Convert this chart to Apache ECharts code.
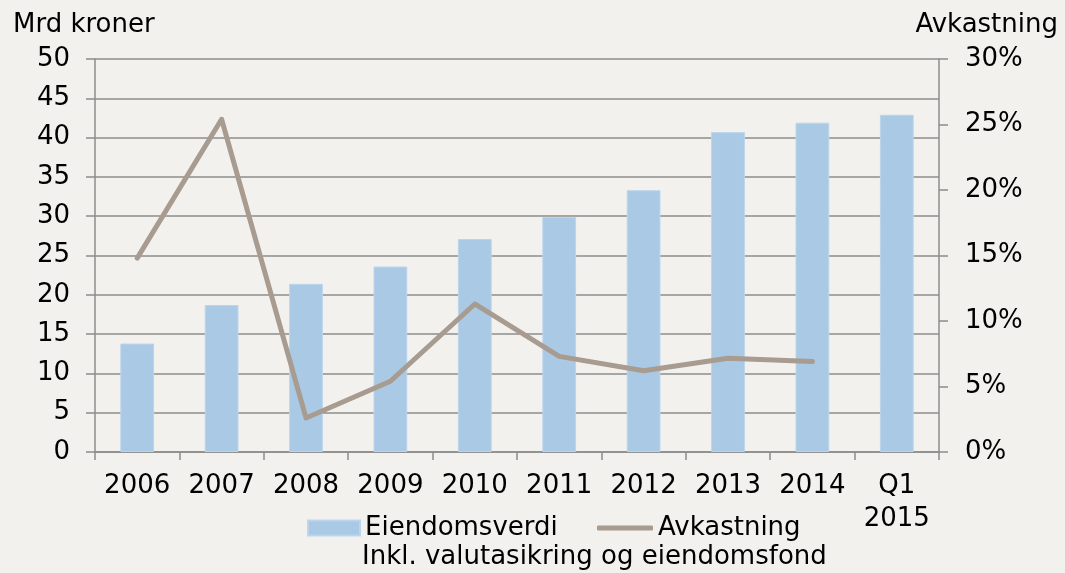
<!DOCTYPE html>
<html>
<head>
<meta charset="utf-8">
<script src="https://cdn.jsdelivr.net/npm/echarts@6/dist/echarts.min.js"></script>
<style>
  html, body { margin: 0; padding: 0; background: #f3f1ee; }
  #chart { width: 1065px; height: 573px; }
</style>
</head>
<body>
<div id="chart"></div>
<script>
// data
const years = ['2006', '2007', '2008', '2009', '2010', '2011', '2012', '2013', '2014', 'Q1\n2015']
const eiendomsverdi = [13.8, 18.7, 21.4, 23.6, 27.1, 29.9, 33.3, 40.7, 41.9, 42.9]
const avkastning = [14.8, 25.4, 2.6, 5.4, 11.3, 7.3, 6.2, 7.15, 6.9, null] // prosent

const gray = '#8c8c8c'
const font = 'DejaVu Sans'
const fs = 26

const chart = echarts.init(document.getElementById('chart'))

const legendText = { fontFamily: font, fontSize: fs, color: '#000' }

const option = {
  backgroundColor: '#f3f1ee',
  textStyle: { fontFamily: font },
  animation: false,
  grid: { left: 95, right: 126, top: 59, bottom: 121 },
  legend: [
    {
      left: 302, top: 510,
      itemWidth: 52, itemHeight: 15,
      textStyle: legendText,
      data: [{ name: 'Eiendomsverdi', icon: 'rect' }]
    },
    {
      left: 592, top: 510,
      itemWidth: 56, itemHeight: 5,
      textStyle: legendText,
      data: [{ name: 'Avkastning', icon: 'roundRect', itemStyle: { color: '#a89b8f' } }]
    }
  ],
  graphic: [
    { type: 'text', left: 13, top: 12, style: { text: 'Mrd kroner', font: fs + 'px ' + font, fill: '#000' } },
    { type: 'text', right: 7, top: 12, style: { text: 'Avkastning', font: fs + 'px ' + font, fill: '#000' } },
    { type: 'text', left: 362, top: 544, style: { text: 'Inkl. valutasikring og eiendomsfond', font: fs + 'px ' + font, fill: '#000' } }
  ],
  xAxis: {
    type: 'category',
    data: years,
    axisLine: { lineStyle: { color: gray, width: 1.5 } },
    axisTick: { show: true, length: 8, lineStyle: { color: gray, width: 1.5 } },
    axisLabel: { color: '#000', fontSize: fs, fontFamily: font, margin: 18, lineHeight: 33, interval: 0 }
  },
  yAxis: [
    {
      type: 'value', min: 0, max: 50, interval: 5,
      axisLine: { show: true, lineStyle: { color: gray, width: 1.5 } },
      axisTick: { show: true, length: 9, lineStyle: { color: gray, width: 1.5 } },
      axisLabel: { color: '#000', fontSize: fs, fontFamily: font, margin: 25 },
      splitLine: { show: true, lineStyle: { color: gray, width: 1.5 } }
    },
    {
      type: 'value', min: 0, max: 30, interval: 5,
      axisLine: { show: true, lineStyle: { color: gray, width: 1.5 } },
      axisTick: { show: true, length: 9, lineStyle: { color: gray, width: 1.5 } },
      axisLabel: { color: '#000', fontSize: fs, fontFamily: font, margin: 26, formatter: '{value}%' },
      splitLine: { show: false }
    }
  ],
  series: [
    {
      name: 'Eiendomsverdi',
      type: 'bar',
      data: eiendomsverdi,
      barCategoryGap: '60%',
      itemStyle: { color: '#a9c9e5', borderColor: '#bcd5ec', borderWidth: 1 }
    },
    {
      name: 'Avkastning',
      type: 'line',
      yAxisIndex: 1,
      data: avkastning,
      symbol: 'none',
      lineStyle: { color: '#a89b8f', width: 5, cap: 'round', join: 'round' },
      itemStyle: { color: '#a89b8f' }
    }
  ]
}

chart.setOption(option)
</script>
</body>
</html>
